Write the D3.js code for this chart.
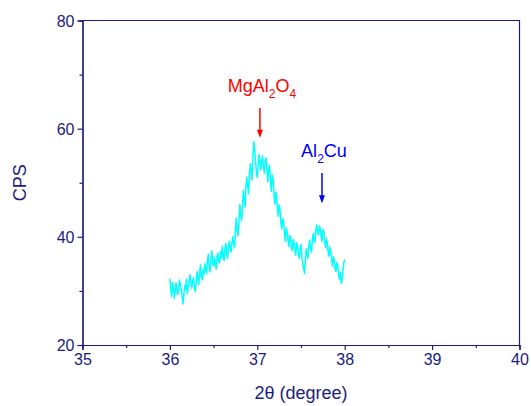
<!DOCTYPE html>
<html>
<head>
<meta charset="utf-8">
<script src="https://cdn.jsdelivr.net/npm/d3@7"></script>
<style>
  body { margin: 0; background: #fff; }
  text { font-family: "Liberation Sans", Arial, sans-serif; }
</style>
</head>
<body>
<div class="chart"></div>
<script>
// scan 36.00 -> 38.00 deg, step 0.01
var angleStart = 36.0;
var angleStep = 0.01;
var cps = [
  32.2, 30.4, 29.0, 31.6, 30.8, 28.6, 29.9, 31.5, 30.1, 29.3,
  30.6, 32.0, 31.1, 30.2, 28.9, 27.6, 29.4, 31.0, 30.3, 32.2,
  29.5, 30.7, 31.8, 33.0, 31.4, 30.5, 31.9, 32.4, 30.9, 29.8,
  31.6, 33.6, 32.5, 31.2, 33.4, 34.8, 32.6, 32.0, 33.9, 33.1,
  35.0, 34.2, 33.2, 35.7, 36.8, 34.4, 33.5, 35.9, 37.4, 35.3,
  34.6, 36.2, 35.1, 34.0, 36.5, 37.0, 35.4, 35.2, 37.3, 36.1,
  38.2, 36.4, 35.6, 37.9, 38.8, 36.7, 36.0, 38.1, 39.2, 37.5,
  37.2, 38.9, 40.0, 38.6, 38.0, 41.2, 43.5, 41.4, 40.2, 42.6,
  46.0, 44.1, 43.0, 45.3, 48.5, 47.0, 45.5, 49.2, 51.0, 49.4,
  48.0, 51.6, 53.5, 52.0, 50.5, 54.8, 57.6, 56.1, 54.0, 51.8,
  51.0, 53.4, 55.2, 53.6, 52.4, 54.1, 55.0, 53.0, 51.8, 53.9,
  54.6, 52.3, 50.2, 52.7, 53.2, 50.6, 48.4, 51.5, 50.8, 48.2,
  46.0, 48.3, 47.6, 45.2, 43.8, 45.9, 45.0, 42.6, 41.5, 43.4,
  43.0, 40.9, 39.2, 41.6, 41.0, 39.4, 38.2, 40.3, 39.8, 38.0,
  37.4, 39.5, 39.0, 37.6, 36.6, 38.9, 38.4, 36.9, 36.0, 37.5,
  38.6, 36.3, 35.0, 34.2, 33.2, 35.6, 37.8, 36.9, 36.0, 38.3,
  39.4, 37.8, 37.2, 39.6, 40.6, 39.1, 39.0, 41.3, 42.2, 40.8,
  40.4, 42.0, 41.6, 40.0, 39.2, 41.4, 41.0, 39.3, 38.0, 39.6,
  39.0, 37.2, 36.4, 38.1, 37.4, 35.8, 34.6, 36.3, 35.8, 34.1,
  33.6, 35.2, 34.8, 33.0, 32.2, 33.5, 31.4, 32.0, 33.8, 35.2,
  35.8
];

var xTicks = [35, 36, 37, 38, 39, 40];
var yTicks = [20, 40, 60, 80];

// peak labels: [main, sub, main, sub...], arrow from y0 to y1 at x
var peaks = [
  { parts: ['MgAl', '2', 'O', '4'], x: 37.03, y0: 63.8, y1: 58.3, color: '#ff0000' },
  { parts: ['Al', '2', 'Cu'], x: 37.74, y0: 51.8, y1: 46.2, color: '#0000ff' }
];

var W = 531, H = 406;
var navy = '#1c1c80';
var m = { left: 82.5, right: 11.5, top: 20.5, bottom: 61 };

var svg = d3.select('.chart').append('svg')
  .attr('width', W)
  .attr('height', H);

var x = d3.scaleLinear().domain([35, 40]).range([m.left, W - m.right]);
var y = d3.scaleLinear().domain([20, 80]).range([H - m.bottom, m.top]);

var data = cps.map(function(v, i){
  return { a: angleStart + i * angleStep, v: v };
});

// frame (top / right)
svg.append('path')
  .attr('d', 'M' + x(35) + ',' + y(80) + 'H' + x(40) + 'V' + y(20))
  .attr('fill', 'none')
  .attr('stroke', navy)
  .attr('stroke-width', 1.2);

// minor ticks
var xMinor = svg.append('g')
  .attr('transform', 'translate(0,' + y(20) + ')')
  .call(d3.axisBottom(x).tickValues(d3.range(35.5, 40, 1)).tickSize(3).tickFormat(''));
var yMinor = svg.append('g')
  .attr('transform', 'translate(' + x(35) + ',0)')
  .call(d3.axisLeft(y).tickValues([30, 50, 70]).tickSize(3).tickFormat(''));

var xAxis = svg.append('g')
  .attr('transform', 'translate(0,' + y(20) + ')')
  .call(d3.axisBottom(x).tickValues(xTicks).tickSize(5).tickPadding(4).tickFormat(d3.format('d')));
var yAxis = svg.append('g')
  .attr('transform', 'translate(' + x(35) + ',0)')
  .call(d3.axisLeft(y).tickValues(yTicks).tickSize(5).tickPadding(3).tickFormat(d3.format('d')));

[xMinor, yMinor, xAxis, yAxis].forEach(function(g){
  g.selectAll('path').attr('stroke', navy).attr('stroke-width', 1.2);
  g.selectAll('line').attr('stroke', navy).attr('stroke-width', 1.2);
  g.selectAll('text')
    .attr('fill', navy)
    .style('font-size', '16px')
    .style('font-family', '"Liberation Sans", Arial, sans-serif');
});
yAxis.selectAll('text').attr('dy', '0.36em');

// axis titles
svg.append('text')
  .attr('x', (x(35) + x(40)) / 2)
  .attr('y', 399)
  .attr('text-anchor', 'middle')
  .attr('fill', navy)
  .style('font-size', '18px')
  .text('2\u03b8 (degree)');

svg.append('text')
  .attr('transform', 'translate(26,' + ((y(20) + y(80)) / 2) + ') rotate(-90)')
  .attr('text-anchor', 'middle')
  .attr('fill', navy)
  .style('font-size', '18px')
  .text('CPS');

// scan line
var line = d3.line()
  .x(function(d){ return x(d.a); })
  .y(function(d){ return y(d.v); });

svg.append('path')
  .datum(data)
  .attr('d', line)
  .attr('fill', 'none')
  .attr('stroke', '#00ffff')
  .attr('stroke-width', 1.5)
  .attr('stroke-linejoin', 'round');

// peak markers
peaks.forEach(function(p){
  var g = svg.append('g');
  var t = g.append('text')
    .attr('y', y(p.y0) - 16)
    .attr('fill', p.color)
    .style('font-size', '18px');
  p.parts.forEach(function(s, i){
    var sub = i % 2 == 1;
    t.append('tspan')
      .attr('dy', sub ? 6 : (i > 0 ? -6 : 0))
      .style('font-size', sub ? '12px' : '18px')
      .text(s);
  });
  var w = t.node().getComputedTextLength();
  t.attr('x', x(p.x) - w / 2 + 2);

  g.append('line')
    .attr('x1', x(p.x)).attr('x2', x(p.x))
    .attr('y1', y(p.y0)).attr('y2', y(p.y1) - 7)
    .attr('stroke', p.color)
    .attr('stroke-width', 1.5);
  g.append('path')
    .attr('d', 'M' + (x(p.x) - 3) + ',' + (y(p.y1) - 8) + 'L' + (x(p.x) + 3) + ',' + (y(p.y1) - 8) + 'L' + x(p.x) + ',' + y(p.y1) + 'Z')
    .attr('fill', p.color);
});
</script>
</body>
</html>
